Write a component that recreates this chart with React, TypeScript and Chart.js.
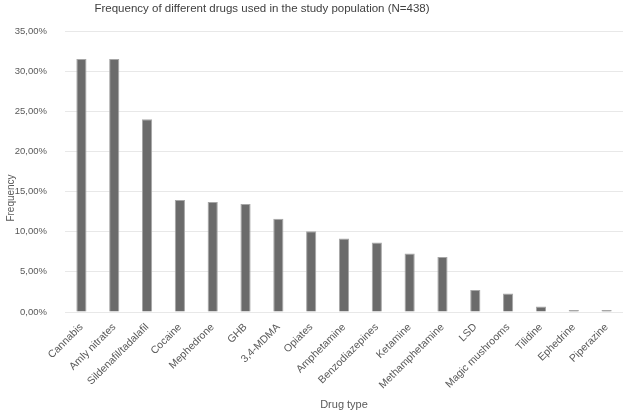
import React, { useEffect, useRef } from 'react';
import { Chart, registerables } from 'chart.js';

Chart.register(...registerables);

const chartTitle = 'Frequency of different drugs used in the study population (N=438)';
const yAxisTitle = 'Frequency';
const xAxisTitle = 'Drug type';

const categories = [
  'Cannabis',
  'Amly nitrates',
  'Sildenafil/tadalafil',
  'Cocaine',
  'Mephedrone',
  'GHB',
  '3,4-MDMA',
  'Opiates',
  'Amphetamine',
  'Benzodiazepines',
  'Ketamine',
  'Methamphetamine',
  'LSD',
  'Magic mushrooms',
  'Tilidine',
  'Ephedrine',
  'Piperazine',
];

// percent values
const frequencies = [31.5, 31.5, 24.0, 13.95, 13.7, 13.45, 11.6, 10.05, 9.15, 8.65, 7.3, 6.85, 2.75, 2.3, 0.7, 0.25, 0.25];

const yMin = 0;
const yMax = 35;
const yStep = 5;

const FONT = '"Liberation Sans", Arial, sans-serif';

const textPlugin = {
  id: 'extraText',
  afterDraw(chart: any) {
    const ctx = chart.ctx;
    ctx.save();
    ctx.fillStyle = '#404040';
    ctx.textAlign = 'center';
    ctx.textBaseline = 'middle';
    ctx.font = `11.5px ${FONT}`;
    ctx.fillText(chartTitle, 262, 9);
    ctx.fillStyle = '#595959';
    ctx.font = `10px ${FONT}`;
    ctx.translate(11, 198);
    ctx.rotate(-Math.PI / 2);
    ctx.fillText(yAxisTitle, 0, 0);
    ctx.restore();
  },
};

export default function App() {
  const ref = useRef<HTMLCanvasElement | null>(null);

  useEffect(() => {
    if (!ref.current) return;
    const chart = new Chart(ref.current, {
      type: 'bar',
      data: {
        labels: categories,
        datasets: [
          {
            data: frequencies,
            backgroundColor: '#6b6b6b',
            borderColor: '#a6a6a6',
            borderWidth: 1,
            barPercentage: 0.31,
            categoryPercentage: 1,
          },
        ],
      },
      plugins: [textPlugin],
      options: {
        responsive: false,
        animation: false,
        layout: { padding: { top: 31, right: 2, left: 0, bottom: 0 } },
        plugins: {
          legend: { display: false },
          title: { display: false },
          tooltip: { enabled: false },
        },
        scales: {
          x: {
            grid: { display: false, drawTicks: false },
            border: { display: false },
            ticks: {
              autoSkip: false,
              maxRotation: 45,
              minRotation: 45,
              padding: 9,
              color: '#595959',
              font: { family: FONT, size: 10.5 },
            },
            title: {
              display: true,
              text: xAxisTitle,
              color: '#595959',
              font: { family: FONT, size: 11 },
              padding: { top: 2, bottom: 3 },
            },
            afterFit: (scale: any) => {
              scale.height = 103;
            },
          },
          y: {
            min: yMin,
            max: yMax,
            grid: { color: '#e8e8e8', lineWidth: 1, drawTicks: false },
            border: { display: false },
            ticks: {
              stepSize: yStep,
              padding: 18,
              color: '#595959',
              font: { family: FONT, size: 9.5 },
              callback: (v: any) => Number(v).toFixed(2).replace('.', ',') + '%',
            },
            afterFit: (scale: any) => {
              scale.width = 65;
            },
          },
        },
      },
    });
    return () => chart.destroy();
  }, []);

  return (
    <div style={{ position: 'absolute', left: 0, top: 0, width: 625, height: 415, background: '#fff' }}>
      <canvas ref={ref} width={625} height={415} />
    </div>
  );
}
